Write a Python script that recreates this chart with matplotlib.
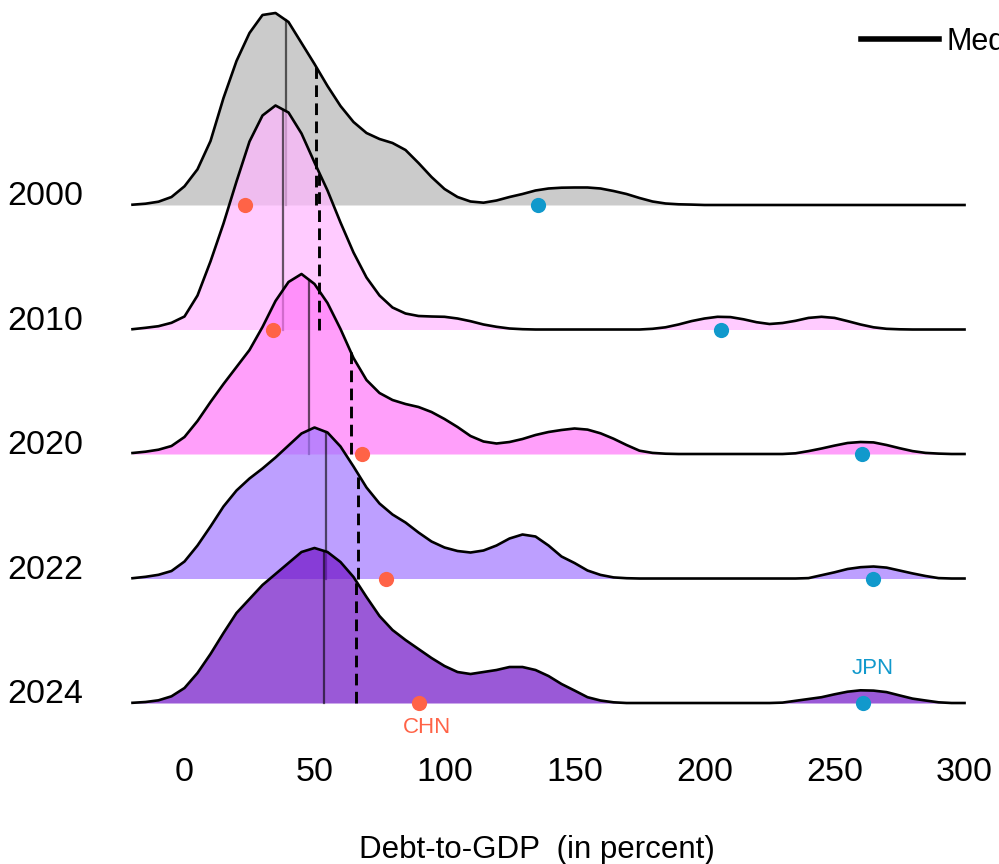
import numpy as np
import matplotlib.pyplot as plt
from matplotlib.lines import Line2D

plt.rcParams['font.family'] = ['Liberation Sans', 'DejaVu Sans']

# debt-to-GDP grid (percent) on which the ridge heights were read
debt_grid = np.arange(-20, 301, 5)

years = ["2000", "2010", "2020", "2022", "2024"]

# ridge heights, in pixels of the original chart (one row = 124.5 px)
ridge_2000 = [0.3, 1.3, 3.3, 8, 18.7, 35.7, 64, 107, 144, 172, 190, 192, 183, 162, 141, 119,
              99, 83, 72, 66, 62, 55, 42, 28, 16, 8, 3.5, 2.3, 4.5, 8, 11, 14.5, 16.5, 17.3, 17.5,
              17.5, 16.5, 14, 11, 7, 3.5, 1.5, 0.7, 0.4,
              0, 0, 0, 0, 0, 0, 0, 0, 0, 0, 0, 0, 0, 0, 0, 0, 0, 0, 0, 0, 0]
ridge_2010 = [0.3, 1.7, 3.3, 6.7, 13, 34, 68, 106, 148, 188, 214, 224, 217, 196, 167, 139,
              107, 77, 52, 34, 22, 16, 13.5, 13, 12.7, 11, 8.3, 5, 2.7, 1, 0.3,
              0, 0, 0, 0, 0, 0, 0, 0, 0,
              0.7, 2.2, 5, 8.4, 11, 12.7, 12.4, 10.2, 7.3, 5.5, 6.5, 8.7, 11.6, 12.7, 11.6,
              8.4, 5, 2.2, 0.7, 0.2, 0, 0, 0, 0, 0]
ridge_2020 = [1, 2.3, 4.3, 8, 17, 33, 52, 70, 87, 104, 127, 153, 172, 180, 170, 151, 125,
              96, 74, 61, 54, 50, 47, 42, 35, 27, 18, 12.5, 10.5, 12, 15, 19, 22, 24, 25.5, 24.4,
              20.7, 15.3, 9, 3.3, 1.1, 0.3,
              0, 0, 0, 0, 0, 0, 0, 0, 0,
              0.7, 2.9, 5.5, 8.4, 11, 12, 11.6, 9, 5.8, 2.9, 1.1, 0.4, 0, 0]
ridge_2022 = [0.3, 1.7, 3.7, 7.5, 17, 33, 52, 72, 88, 100, 110, 121, 133, 145, 151, 146, 132,
              112, 91, 75, 64, 56, 46, 37, 31, 27.5, 26, 28, 33, 40, 44, 42, 33, 22, 15.5, 8,
              3.6, 1.1, 0.3,
              0, 0, 0, 0, 0, 0, 0, 0, 0, 0, 0, 0, 0,
              0.4, 3.3, 6.2, 9.5, 11.3, 12, 10.9, 8, 5.1, 2.5, 0.4, 0, 0]
ridge_2024 = [0.2, 1, 2.7, 6.7, 15, 30, 49, 70, 90, 104, 118, 129, 140, 151, 155, 151, 141,
              126, 106, 87, 73, 63, 54, 45, 37, 31, 29, 31, 33, 36, 36, 33, 27, 19, 12.5, 5.8,
              2.5, 0.7,
              0, 0, 0, 0, 0, 0, 0, 0, 0, 0, 0, 0,
              0.4, 2.2, 4, 5.8, 8.7, 11.3, 12.7, 12.4, 10.9, 7.6, 4.4, 2.5, 0.7, 0, 0]
ridges = [ridge_2000, ridge_2010, ridge_2020, ridge_2022, ridge_2024]

medians = [38.9, 38.0, 47.9, 54.4, 53.7]
means = [50.6, 51.9, 63.9, 66.9, 66.0]
chn = [23.3, 34.2, 68.4, 77.4, 90.2]
jpn = [136.1, 206.2, 260.4, 264.9, 260.8]

fill_colors = ["#b6b6b6", "#ffb6ff", "#ff77f8", "#a277ff", "#7013c6"]
ROW_PX = 124.5

fig = plt.figure(figsize=(9.99, 8.64), dpi=100)
ax = fig.add_axes([0.1066, 0.1431, 0.8615, 0.8574])

n = len(years)
bases = [n - 1 - i for i in range(n)]

for i, year in enumerate(years):
    base = bases[i]
    h = np.array(ridges[i]) / ROW_PX
    z = 1 + 3 * i
    ax.fill_between(debt_grid, base, base + h, color=fill_colors[i], alpha=0.7, lw=0, zorder=z)
    m = medians[i]
    ax.plot([m, m], [base, base + np.interp(m, debt_grid, h)], color="black", alpha=0.6,
            lw=1.6, zorder=z + 0.5)
    ax.plot(debt_grid, base + h, color="black", lw=1.9, solid_joinstyle="round", zorder=z + 1)

for i in range(n):
    h = np.array(ridges[i]) / ROW_PX
    mu = means[i]
    ax.plot([mu, mu], [bases[i], bases[i] + np.interp(mu, debt_grid, h)], color="black",
            lw=2.1, ls=(0, (4, 2.2)), zorder=20)

ax.scatter(chn, bases, s=120, color="#ff6347", lw=0, zorder=25)
ax.scatter(jpn, bases, s=120, color="#1199cc", lw=0, zorder=25)
ax.annotate("CHN", (chn[-1], bases[-1]), xytext=(5.4, -17.3), textcoords="offset points",
            ha="center", va="center", color="#ff6347", fontsize=16)
ax.annotate("JPN", (jpn[-1], bases[-1]), xytext=(7.2, 25), textcoords="offset points",
            ha="center", va="center", color="#1199cc", fontsize=16)

ax.set_xlim(-30, 301)
ax.set_ylim(-0.3, 5.65)
ax.set_xticks([0, 50, 100, 150, 200, 250, 300])
ax.set_yticks(bases)
ax.set_yticklabels(years)
for lab in ax.get_yticklabels():
    lab.set_verticalalignment("baseline")
ax.tick_params(axis="both", length=0, labelsize=24.5)
ax.tick_params(axis="x", pad=12)
ax.tick_params(axis="y", pad=17)
for s in ax.spines.values():
    s.set_visible(False)

ax.set_xlabel("Debt-to-GDP  (in percent)", fontsize=22.5)
ax.xaxis.set_label_coords(0.5, -0.128)

# legend sits at the top right and runs past the figure edge, as in the original
handles = [Line2D([], [], color="black", lw=4), Line2D([], [], color="black", lw=4, ls="--")]
fig.legend(handles, ["Median", "Mean"], loc="center left", bbox_to_anchor=(861 / 999, 1 - 42 / 864),
           bbox_transform=fig.transFigure, frameon=False, borderpad=0, borderaxespad=0,
           handlelength=2.55, handletextpad=0.26, ncol=2, fontsize=22)

plt.savefig("out.png", dpi=100)
